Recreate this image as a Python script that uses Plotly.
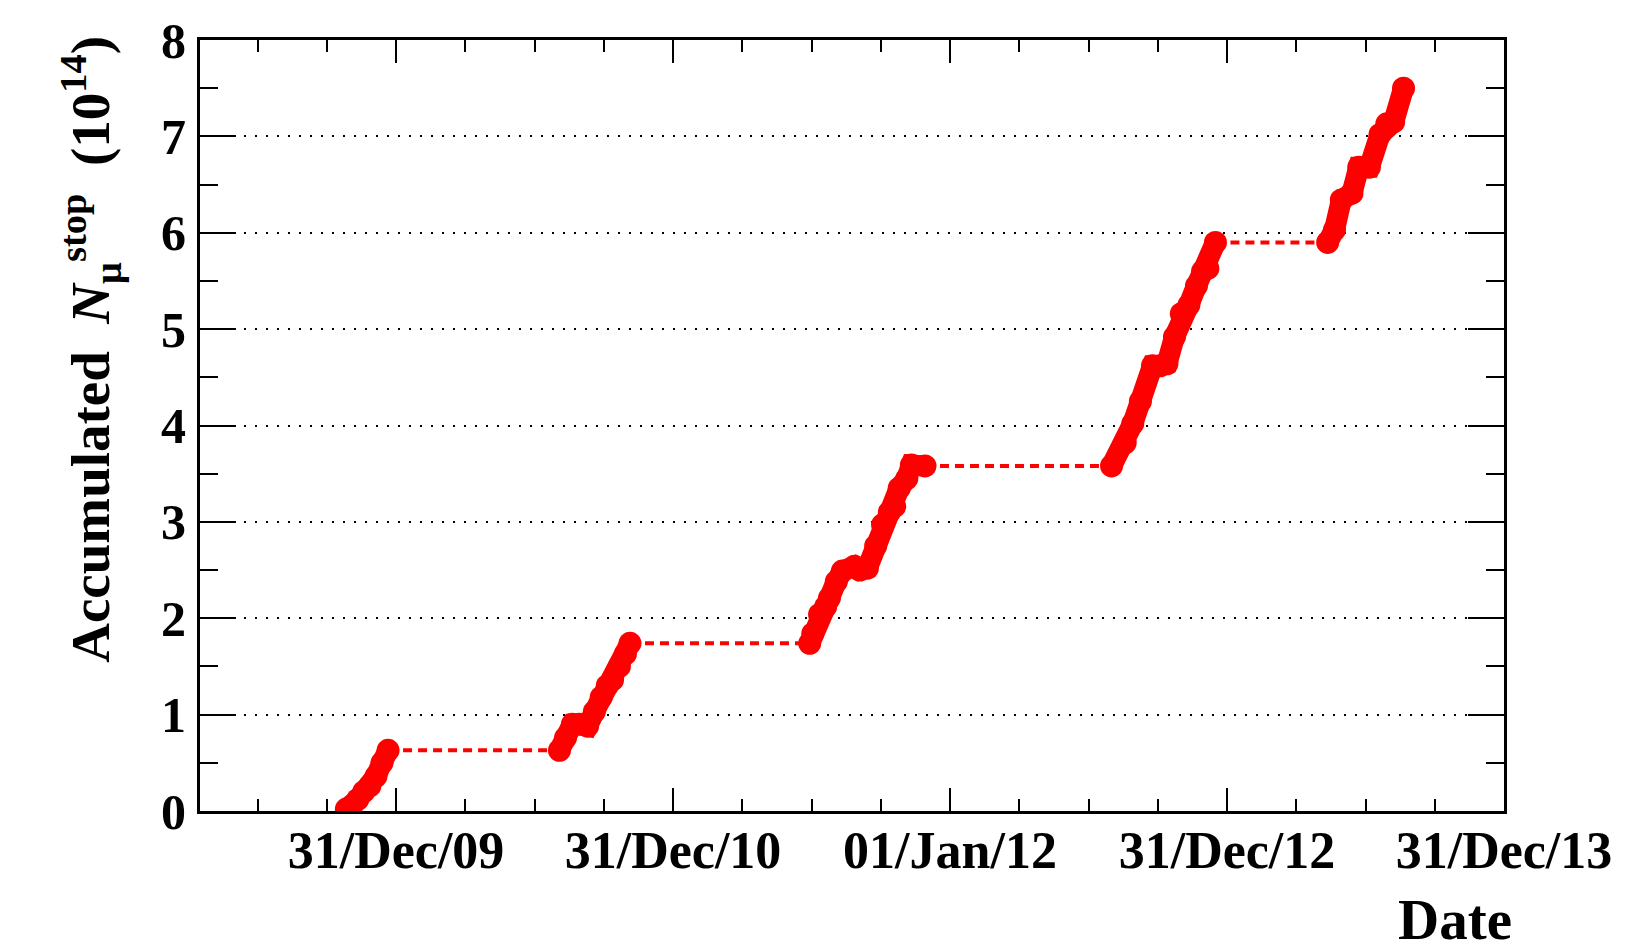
import pandas as pd
import plotly.graph_objects as go

# Accumulated number of stopped muons (units of 1e14) during each data-taking run
run1_dates = ["2009-10-27", "2009-11-03", "2009-11-11", "2009-11-19", "2009-11-27",
              "2009-12-05", "2009-12-13", "2009-12-21"]
run1_nmu = [0.02, 0.05, 0.12, 0.20, 0.26, 0.36, 0.50, 0.63]

run2_dates = ["2010-08-04", "2010-08-12", "2010-08-21", "2010-08-30", "2010-09-10",
              "2010-09-19", "2010-09-28", "2010-10-06", "2010-10-13", "2010-10-22",
              "2010-10-30", "2010-11-05"]
run2_nmu = [0.63, 0.76, 0.90, 0.90, 0.88, 1.03, 1.18, 1.30, 1.36, 1.50, 1.63, 1.74]

run3_dates = ["2011-06-30", "2011-07-04", "2011-07-13", "2011-07-21", "2011-07-26",
              "2011-08-04", "2011-08-12", "2011-08-28", "2011-09-04", "2011-09-14",
              "2011-09-25", "2011-10-04", "2011-10-13", "2011-10-20", "2011-10-26",
              "2011-11-05", "2011-11-11", "2011-11-29"]
run3_nmu = [1.74, 1.84, 2.04, 2.12, 2.21, 2.38, 2.49, 2.54, 2.50, 2.52,
            2.75, 2.97, 3.10, 3.16, 3.35, 3.45, 3.59, 3.58]

run4_dates = ["2012-08-01", "2012-08-19", "2012-08-29", "2012-09-08", "2012-09-24",
              "2012-10-04", "2012-10-13", "2012-10-23", "2012-11-01", "2012-11-11",
              "2012-11-21", "2012-11-29", "2012-12-06", "2012-12-16"]
run4_nmu = [3.58, 3.82, 4.02, 4.25, 4.62, 4.62, 4.64, 4.92, 5.16, 5.25,
            5.45, 5.60, 5.63, 5.90]

run5_dates = ["2013-05-13", "2013-05-22", "2013-05-31", "2013-06-14", "2013-06-23",
              "2013-07-07", "2013-07-21", "2013-07-30", "2013-08-08", "2013-08-21"]
run5_nmu = [5.90, 6.03, 6.34, 6.41, 6.68, 6.68, 7.02, 7.13, 7.15, 7.50]

# Time axis: labelled ticks one (365.25-day) year apart
tick_dates = ["2009-12-31 12:00", "2010-12-31 18:00", "2012-01-01 00:00",
              "2012-12-31 06:00", "2013-12-31 12:00"]
tick_labels = ["31/Dec/09", "31/Dec/10", "01/Jan/12", "31/Dec/12", "31/Dec/13"]
x_range = ["2009-04-17 00:00", "2013-12-31 12:00"]

runs = [(run1_dates, run1_nmu), (run2_dates, run2_nmu), (run3_dates, run3_nmu),
        (run4_dates, run4_nmu), (run5_dates, run5_nmu)]

RED = "#ff0000"
FONT = "Liberation Serif"

fig = go.Figure()

# dashed connectors across the shutdown periods between runs
for (d_a, v_a), (d_b, v_b) in zip(runs[:-1], runs[1:]):
    fig.add_trace(go.Scatter(
        x=[d_a[-1], d_b[0]], y=[v_a[-1], v_b[0]], mode="lines",
        line=dict(color=RED, width=4, dash="9px,6px"), hoverinfo="skip"))

# accumulated statistics within each run
for dates, vals in runs:
    fig.add_trace(go.Scatter(
        x=dates, y=vals, mode="lines+markers",
        line=dict(color=RED, width=21),
        marker=dict(color=RED, size=23)))

# quarter-year minor ticks
t0 = pd.Timestamp(tick_dates[0])
quarter = pd.Timedelta(days=365.25 / 4)
lo, hi = pd.Timestamp(x_range[0]), pd.Timestamp(x_range[1])
minor_ticks = []
for k in range(-4, 17):
    if k % 4 == 0:
        continue
    t = t0 + k * quarter
    if lo < t < hi:
        minor_ticks.append(t.strftime("%Y-%m-%d %H:%M"))

fig.update_layout(
    width=1626, height=950,
    margin=dict(l=200, r=122, t=36, b=139),
    paper_bgcolor="white", plot_bgcolor="white",
    showlegend=False,
    font=dict(family=FONT, color="black"),
    xaxis=dict(
        type="date", range=x_range,
        tickmode="array", tickvals=tick_dates, ticktext=tick_labels,
        ticks="inside", ticklen=23, tickwidth=2, tickcolor="black",
        minor=dict(tickmode="array", tickvals=minor_ticks, ticks="inside",
                   ticklen=12, tickwidth=2, tickcolor="black", showgrid=False),
        showline=True, linewidth=3, linecolor="black", mirror="ticks",
        showgrid=False, zeroline=False,
        tickfont=dict(family=FONT, size=52, color="black", weight="bold"),
        ticklabelstandoff=-8,
    ),
    yaxis=dict(
        range=[0, 8], tickmode="linear", tick0=0, dtick=1,
        ticks="inside", ticklen=36, tickwidth=2, tickcolor="black",
        minor=dict(tickmode="linear", tick0=0, dtick=0.5, ticks="inside",
                   ticklen=18, tickwidth=2, tickcolor="black", showgrid=False),
        showline=True, linewidth=3, linecolor="black", mirror="ticks",
        showgrid=True, gridcolor="black", gridwidth=2, griddash="2px,9px",
        zeroline=False,
        tickfont=dict(family=FONT, size=50, color="black", weight="bold"),
        ticklabelstandoff=1,
    ),
)

# axis titles, placed at the far end of each axis
fig.add_annotation(
    text="<b>Accumulated  <i>N</i><sub>μ</sub><sup>stop</sup>  (10<sup>14</sup>)</b>",
    xref="paper", yref="paper", x=-0.084, y=1.008,
    xanchor="center", yanchor="top", textangle=-90, showarrow=False,
    font=dict(family=FONT, size=55, color="black"))
fig.add_annotation(
    text="<b>Date</b>",
    xref="paper", yref="paper", x=1.008, y=-0.1755,
    xanchor="right", yanchor="bottom", height=50, valign="middle",
    showarrow=False,
    font=dict(family=FONT, size=57, color="black"))

fig.write_html("out.html")
